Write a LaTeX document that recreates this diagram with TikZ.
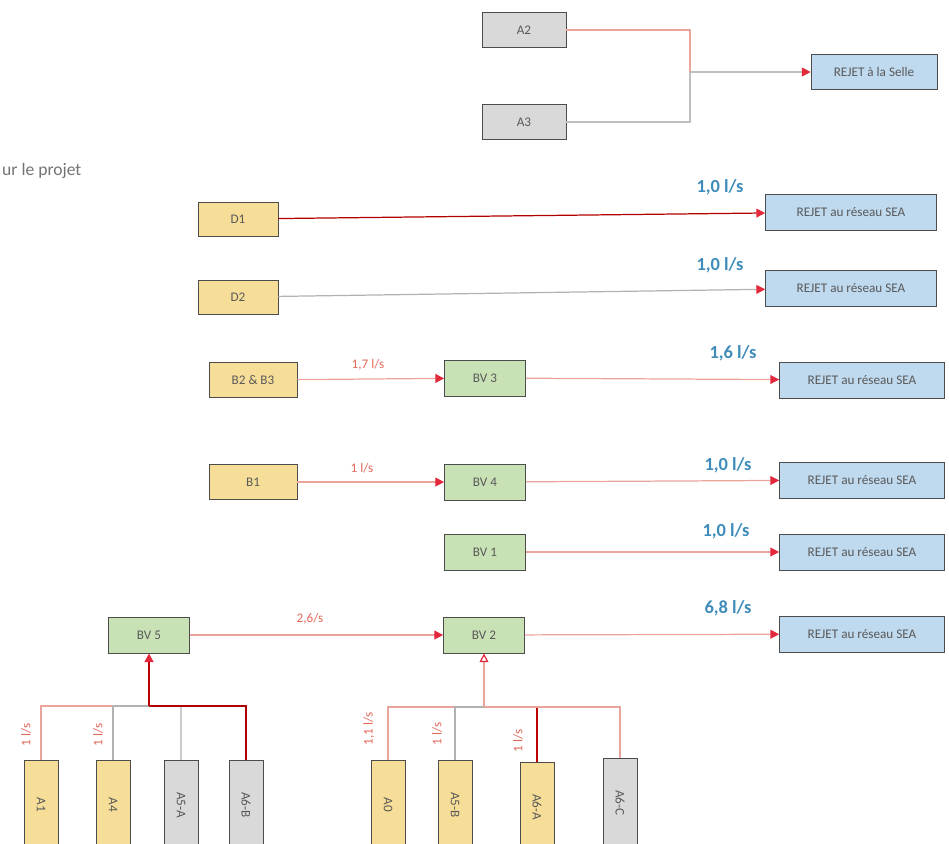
\documentclass[tikz,border=0pt]{standalone}
\usepackage{fontspec}
\setmainfont{Carlito}
\usetikzlibrary{arrows.meta}
\definecolor{boxgray}{HTML}{D9D9D9}
\definecolor{boxyellow}{HTML}{F7DE98}
\definecolor{boxgreen}{HTML}{C8E2B6}
\definecolor{boxblue}{HTML}{BFD9EE}
\definecolor{flowred}{HTML}{EBA49C}
\definecolor{tipred}{HTML}{E2283A}
\definecolor{rateblue}{HTML}{3F8CBB}
\definecolor{ratered}{HTML}{E2685A}

\begin{document}
\begin{tikzpicture}[x=0.02cm, y=-0.02cm,
	basin/.style={draw=black!70, rectangle, inner sep=0pt, text=black!65, font=\fontsize{7.5}{9}\selectfont},
	graybox/.style={basin, fill=boxgray},
	yellowbox/.style={basin, fill=boxyellow},
	greenbox/.style={basin, fill=boxgreen, minimum width=1.62cm, minimum height=0.72cm},
	rejet/.style={basin, fill=boxblue, minimum width=3.3cm, minimum height=0.72cm},
	lot/.style={basin, rotate=-90, minimum width=1.8cm, minimum height=0.68cm},
	flow/.style={draw=flowred, line width=0.7pt},
	flowto/.style={flow, -{Triangle[length=5pt, width=5pt, color=tipred]}},
	rate/.style={text=rateblue, font=\fontsize{10.5}{12}\selectfont\bfseries},
	debit/.style={text=ratered, font=\fontsize{7.5}{9}\selectfont}]
	\useasboundingbox (0,0) rectangle (949,843);
	\clip (0,0) rectangle (949,843);
	
	% Nodes
	\node[graybox, minimum width=1.68cm, minimum height=0.7cm] (a2) at (524,30) {A2};
	\node[graybox, minimum width=1.68cm, minimum height=0.7cm] (a3) at (524,122) {A3};
	\node[basin, fill=boxblue, minimum width=2.52cm, minimum height=0.7cm] (selle) at (874,72) {REJET à la Selle};
	
	\node[yellowbox, minimum width=1.6cm, minimum height=0.68cm] (d1) at (238,219) {D1};
	\node[yellowbox, minimum width=1.6cm, minimum height=0.68cm] (d2) at (238,297) {D2};
	\node[yellowbox, minimum width=1.76cm, minimum height=0.7cm] (b23) at (253,380) {B2 \& B3};
	\node[yellowbox, minimum width=1.76cm, minimum height=0.7cm] (b1) at (253,482) {B1};
	
	\node[greenbox] (bv3) at (485,378) {BV 3};
	\node[greenbox] (bv4) at (485,482) {BV 4};
	\node[greenbox] (bv1) at (485,552) {BV 1};
	\node[greenbox] (bv5) at (149,635) {BV 5};
	\node[greenbox] (bv2) at (484,635) {BV 2};
	
	% Rejets
	\node[rejet, minimum width=3.42cm] (rejd1) at (851,212) {REJET au réseau SEA};
	\node[rejet, minimum width=3.42cm] (rejd2) at (851,288) {REJET au réseau SEA};
	\node[rejet] (rej3) at (862,380) {REJET au réseau SEA};
	\node[rejet] (rej4) at (862,480) {REJET au réseau SEA};
	\node[rejet] (rej1) at (862,552) {REJET au réseau SEA};
	\node[rejet] (rej2) at (862,634) {REJET au réseau SEA};
	
	% Lots
	\node[lot, fill=boxyellow] (la1) at (41,805) {A1};
	\node[lot, fill=boxyellow] (la4) at (113,805) {A4};
	\node[lot, fill=boxgray] (la5a) at (181,805) {A5-A};
	\node[lot, fill=boxgray] (la6b) at (246,805) {A6-B};
	\node[lot, fill=boxyellow] (la0) at (388,805) {A0};
	\node[lot, fill=boxyellow] (la5b) at (455,805) {A5-B};
	\node[lot, fill=boxyellow] (la6a) at (537,807) {A6-A};
	\node[lot, fill=boxgray] (la6c) at (620,803) {A6-C};
	
	\coordinate (selj) at (690,72);
	\coordinate (bus5) at (149,706);
	\coordinate (bus2) at (484,707);
	
	% Connections
	\draw[flow] (a2) -| (selj);
	\draw[flow, draw=black!25] (a3) -| (selj);
	\draw[flowto, draw=black!25] (selj) -- (selle);
	
	\draw[flowto, draw=red!70!black] (d1) -- (rejd1);
	\draw[flowto, draw=black!30] (d2) -- (rejd2);
	\draw[flowto] (b23) -- (bv3);
	\draw[flowto] (b1) -- (bv4);
	\draw[flowto] (bv3) -- (rej3);
	\draw[flowto] (bv4) -- (rej4);
	\draw[flowto] (bv1) -- (rej1);
	\draw[flowto] (bv5) -- (bv2);
	\draw[flowto] (bv2) -- (rej2);
	
	\draw[flow] (la1) |- (bus5);
	\draw[flow, draw=black!30] (la4) |- (bus5);
	\draw[flow, draw=black!20] (la5a) |- (bus5);
	\draw[flow, draw=red!70!black] (la6b) |- (bus5);
	\draw[flowto, line width=1.4pt, draw=red!75!black] (bus5) -- (bv5);
	
	\draw[flow] (la0) |- (bus2);
	\draw[flow, draw=black!30] (la5b) |- (bus2);
	\draw[flow, draw=red!75!black] (la6a) |- (bus2);
	\draw[flow] (la6c) |- (bus2);
	\draw[flowto, -{Triangle[open, length=5pt, width=5pt, color=tipred]}] (bus2) -- (bv2);
	
	% Labels
	\node[text=black!55, font=\fontsize{10}{12}\selectfont, anchor=west] (projet) at (-4,171) {ur le projet};
	\node[rate] (q1) at (720,187) {1,0 l/s};
	\node[rate] (q2) at (720,265) {1,0 l/s};
	\node[rate] (q3) at (733,353) {1,6 l/s};
	\node[rate] (q4) at (728,465) {1,0 l/s};
	\node[rate] (q5) at (726,531) {1,0 l/s};
	\node[rate] (q6) at (728,608) {6,8 l/s};
	\node[debit] (f1) at (368,365) {1,7 l/s};
	\node[debit] (f2) at (362,468) {1 l/s};
	\node[debit] (f3) at (310,619) {2,6/s};
	\node[debit, rotate=90] (f4) at (26,735) {1 l/s};
	\node[debit, rotate=90] (f5) at (98,735) {1 l/s};
	\node[debit, rotate=90] (f6) at (369,729) {1,1 l/s};
	\node[debit, rotate=90] (f7) at (437,734) {1 l/s};
	\node[debit, rotate=90] (f8) at (518,741) {1 l/s};
\end{tikzpicture}
\end{document}
